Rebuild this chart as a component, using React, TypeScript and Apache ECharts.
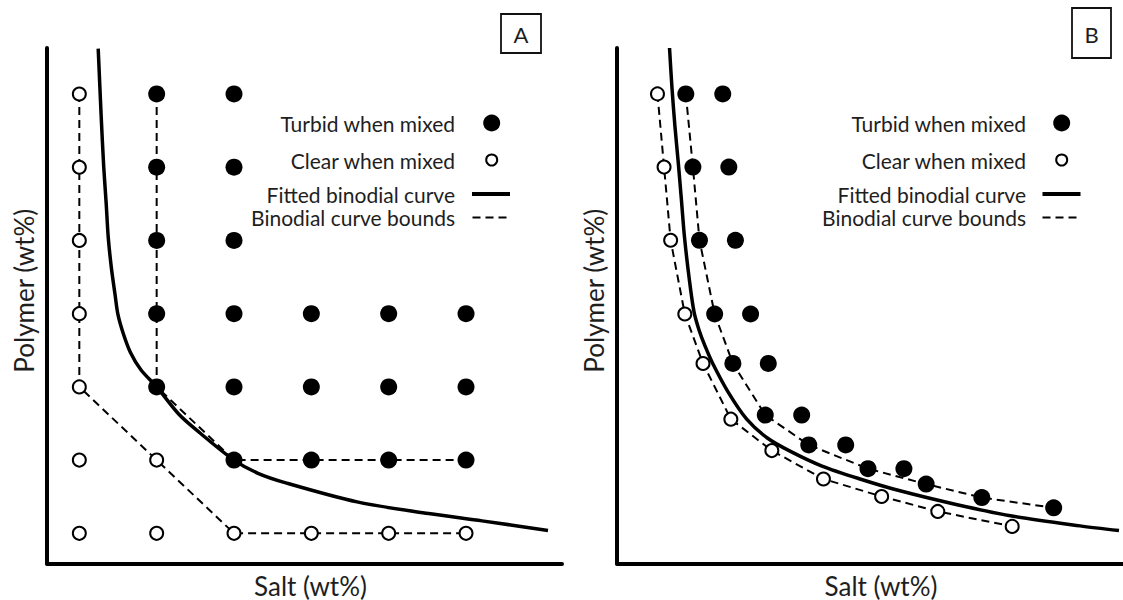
import React, { useEffect, useRef } from "react";
import * as echarts from "echarts";

// ---------- Panel A: regular composition grid (salt step 1–6, polymer step 1–7) ----------
const turbidA: [number, number][] = [
  [2, 7], [2, 6], [2, 5], [2, 4], [2, 3],
  [3, 7], [3, 6], [3, 5], [3, 4], [3, 3], [3, 2],
  [4, 4], [4, 3], [4, 2],
  [5, 4], [5, 3], [5, 2],
  [6, 4], [6, 3], [6, 2],
];
const clearA: [number, number][] = [
  [1, 7], [1, 6], [1, 5], [1, 4], [1, 3], [1, 2], [1, 1],
  [2, 2], [2, 1],
  [3, 1], [4, 1], [5, 1], [6, 1],
];
const fittedA: [number, number][] = [
  [1.244, 7.62], [1.282, 6.71], [1.314, 6.03], [1.347, 5.51], [1.374, 5.04],
  [1.415, 4.62], [1.462, 4.26], [1.499, 3.99], [1.568, 3.73], [1.661, 3.47],
  [1.798, 3.23], [2.0, 3.0], [2.284, 2.63], [2.561, 2.37], [3.0, 2.0],
  [3.31, 1.82], [3.669, 1.69], [4.591, 1.43], [5.516, 1.27], [6.207, 1.17],
  [7.06, 1.04],
];
const upperBoundA: [number, number][] = [[2, 7], [2, 3], [3, 2], [6, 2]];
const lowerBoundA: [number, number][] = [[1, 7], [1, 3], [3, 1], [6, 1]];

// ---------- Panel B: titration points along the binodal ----------
const clearB: [number, number][] = [
  [0.8, 9.11], [0.93, 7.69], [1.06, 6.27], [1.34, 4.84], [1.7, 3.88],
  [2.25, 2.8], [3.06, 2.19], [4.08, 1.64], [5.23, 1.3], [6.34, 1.01], [7.81, 0.72],
];
const turbidNearB: [number, number][] = [
  [1.36, 9.11], [1.5, 7.69], [1.63, 6.27], [1.93, 4.84], [2.29, 3.88],
  [2.93, 2.88], [3.79, 2.3], [4.96, 1.84], [6.11, 1.54], [7.21, 1.28], [8.63, 1.08],
];
const turbidFarB: [number, number][] = [
  [2.09, 9.11], [2.21, 7.69], [2.34, 6.27], [2.64, 4.84], [2.99, 3.88],
  [3.65, 2.88], [4.52, 2.3], [5.67, 1.84],
];
const fittedB: [number, number][] = [
  [1.038, 10.0], [1.087, 9.22], [1.146, 8.47], [1.215, 7.73], [1.275, 7.03],
  [1.334, 6.33], [1.423, 5.56], [1.522, 4.88], [1.621, 4.53], [1.739, 4.22],
  [1.897, 3.87], [2.194, 3.33], [2.563, 2.8], [2.964, 2.44], [3.419, 2.18],
  [4.051, 1.89], [4.802, 1.64], [5.593, 1.41], [6.68, 1.15], [7.806, 0.92],
  [9.15, 0.73], [9.921, 0.64],
];

const legendLabels = [
  "Turbid when mixed",
  "Clear when mixed",
  "Fitted binodial curve",
  "Binodial curve bounds",
];
const panelLetters = ["A", "B"];
const xTitle = "Salt (wt%)";
const yTitle = "Polymer (wt%)";

const FONT = "Lato, 'Open Sans', sans-serif";
const INK = "#1e1e1e";
const DASH = [8, 5];

function axisBase() {
  return {
    type: "value" as const,
    axisLine: { show: true, lineStyle: { color: "#000", width: 4 } },
    axisTick: { show: false },
    axisLabel: { show: false },
    splitLine: { show: false },
  };
}

function xAxis(gridIndex: number, min: number, max: number, shift: number) {
  return {
    ...axisBase(),
    gridIndex,
    min,
    max,
    name: xTitle,
    nameLocation: "middle" as const,
    nameGap: 9,
    nameTextStyle: {
      fontFamily: FONT,
      fontSize: 26,
      color: INK,
      padding: [0, 0, 0, shift],
    },
  };
}

function yAxis(gridIndex: number, min: number, max: number) {
  return {
    ...axisBase(),
    gridIndex,
    min,
    max,
    name: yTitle,
    nameLocation: "middle" as const,
    nameGap: 10,
    nameTextStyle: {
      fontFamily: FONT,
      fontSize: 26,
      color: INK,
      padding: [0, 0, 0, 30],
    },
  };
}

function seriesFor(
  idx: number,
  fitted: [number, number][],
  bounds: [number, number][][],
  turbid: [number, number][],
  clear: [number, number][]
) {
  const out: any[] = [];
  bounds.forEach((b) =>
    out.push({
      type: "line",
      name: legendLabels[3],
      xAxisIndex: idx,
      yAxisIndex: idx,
      data: b,
      symbol: "none",
      silent: true,
      lineStyle: { color: "#000", width: 2, type: DASH, opacity: 1 },
      z: 1,
    })
  );
  out.push({
    type: "line",
    name: legendLabels[2],
    xAxisIndex: idx,
    yAxisIndex: idx,
    data: fitted,
    smooth: 0.3,
    symbol: "none",
    silent: true,
    lineStyle: { color: "#000", width: 3.5, opacity: 1 },
    z: 2,
  });
  out.push({
    type: "scatter",
    name: legendLabels[0],
    xAxisIndex: idx,
    yAxisIndex: idx,
    data: turbid,
    symbol: "circle",
    symbolSize: 17,
    silent: true,
    itemStyle: { color: "#000", opacity: 1 },
    z: 3,
  });
  out.push({
    type: "scatter",
    name: legendLabels[1],
    xAxisIndex: idx,
    yAxisIndex: idx,
    data: clear,
    symbol: "circle",
    symbolSize: 13,
    silent: true,
    itemStyle: { color: "#fff", borderColor: "#000", borderWidth: 2, opacity: 1 },
    z: 3,
  });
  return out;
}

// Key drawn to the right of the plot: labels right-aligned, sample marks after them
function keyGraphics(textRight: number, markX: number, lineX1: number, dashX1: number) {
  const rows = [123, 160, 194, 217.5];
  const els: any[] = legendLabels.map((t, i) => ({
    type: "text",
    x: textRight,
    y: rows[i],
    silent: true,
    style: {
      text: t,
      align: "right",
      verticalAlign: "middle",
      fontFamily: FONT,
      fontSize: 21,
      fill: INK,
    },
  }));
  els.push({
    type: "circle",
    silent: true,
    shape: { cx: markX, cy: rows[0], r: 8.5 },
    style: { fill: "#000" },
  });
  els.push({
    type: "circle",
    silent: true,
    shape: { cx: markX, cy: rows[1], r: 5.5 },
    style: { fill: "#fff", stroke: "#000", lineWidth: 2 },
  });
  els.push({
    type: "line",
    silent: true,
    shape: { x1: lineX1, y1: rows[2], x2: lineX1 + 38, y2: rows[2] },
    style: { stroke: "#000", lineWidth: 4 },
  });
  els.push({
    type: "line",
    silent: true,
    shape: { x1: dashX1, y1: rows[3], x2: dashX1 + 34, y2: rows[3] },
    style: { stroke: "#000", lineWidth: 2, lineDash: DASH },
  });
  return els;
}

function letterBox(letter: string, x: number, y: number, w: number, h: number) {
  return [
    {
      type: "rect",
      silent: true,
      shape: { x, y, width: w, height: h },
      style: { fill: "#fff", stroke: "#111", lineWidth: 1.8 },
    },
    {
      type: "text",
      silent: true,
      x: x + w / 2,
      y: y + h / 2 + 1,
      style: {
        text: letter,
        align: "center",
        verticalAlign: "middle",
        fontFamily: FONT,
        fontSize: 22,
        fill: INK,
      },
    },
  ];
}

export default function App() {
  const ref = useRef<HTMLDivElement>(null);

  useEffect(() => {
    if (!ref.current) return;
    const chart = echarts.init(ref.current, null, { renderer: "svg" });
    const option: any = {
      animation: false,
      backgroundColor: "#fff",
      textStyle: { fontFamily: FONT },
      grid: [
        { left: 47, top: 48, width: 515, bottom: 36.5, containLabel: false, outerBoundsMode: "none" },
        { left: 617, top: 48, right: 0, bottom: 36.5, containLabel: false, outerBoundsMode: "none" },
      ],
      xAxis: [xAxis(0, 0.582, 7.241, 12), xAxis(1, 0, 10, 22)],
      yAxis: [yAxis(0, 0.588, 7.628), yAxis(1, 0, 10)],
      series: [
        ...seriesFor(0, fittedA, [upperBoundA, lowerBoundA], turbidA, clearA),
        ...seriesFor(1, fittedB, [turbidNearB, clearB], [...turbidNearB, ...turbidFarB], clearB),
      ],
      graphic: [
        ...keyGraphics(455, 491.7, 472, 472.5),
        ...keyGraphics(1026, 1061.7, 1042.5, 1042.5),
        ...letterBox(panelLetters[0], 501, 14, 40, 39),
        ...letterBox(panelLetters[1], 1072, 8, 39, 50),
      ],
    };
    chart.setOption(option);
    return () => chart.dispose();
  }, []);

  return (
    <div
      ref={ref}
      style={{ position: "absolute", left: 0, top: 0, width: 1123, height: 600 }}
    />
  );
}
